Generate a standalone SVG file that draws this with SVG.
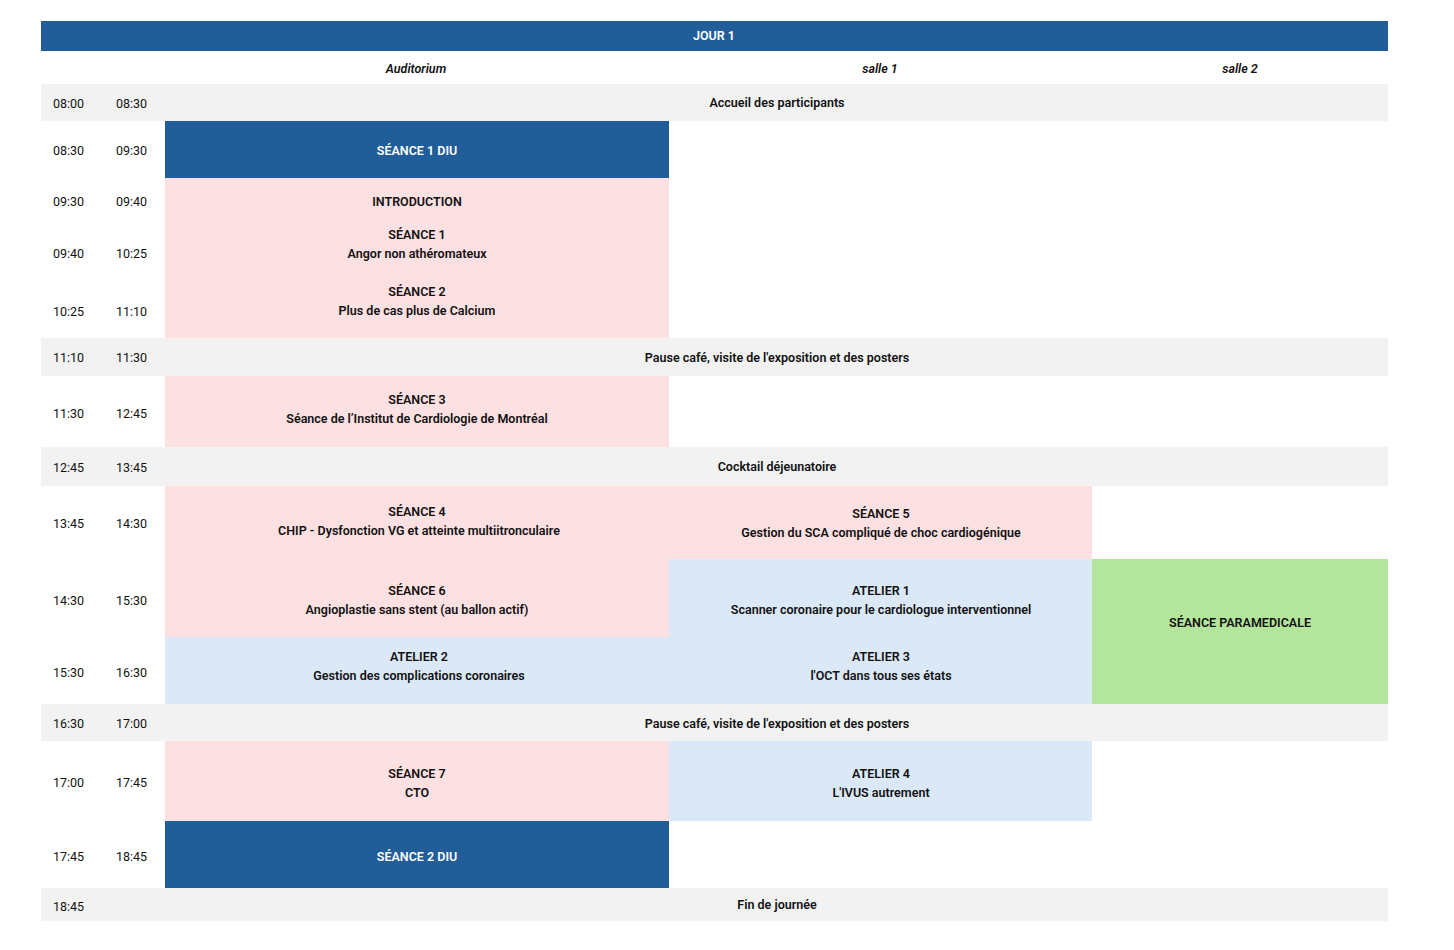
<svg xmlns="http://www.w3.org/2000/svg" width="1454" height="950" viewBox="0 0 1454 950">
<style>
text{font-family:Roboto,"Liberation Sans",sans-serif;font-size:12.5px;fill:#111;}
.b{font-weight:600;text-anchor:middle;}
.t{font-weight:400;}
.w{fill:#fff;}
.i{font-style:italic;}
.gray{fill:#f2f2f2}.blue{fill:#215e99}.pink{fill:#fde0e2}.lb{fill:#dae8f7}.green{fill:#b3e59d}
</style>
<rect width="1454" height="950" fill="#fff"/>
<g id="header"><rect class="blue" x="41" y="21" width="1347" height="30"/><text class="b w" x="714" y="40">JOUR 1</text></g>
<g id="cols"><text class="b i" x="416" y="73">Auditorium</text><text class="b i" x="880" y="73">salle 1</text><text class="b i" x="1240" y="73">salle 2</text></g>
<g id="bands">
<rect class="gray" x="41" y="84" width="1347" height="37"/><text class="b" x="777" y="107">Accueil des participants</text>
<rect class="gray" x="41" y="338" width="1347" height="38"/><text class="b" x="777" y="362">Pause café, visite de l'exposition et des posters</text>
<rect class="gray" x="41" y="447" width="1347" height="39"/><text class="b" x="777" y="471">Cocktail déjeunatoire</text>
<rect class="gray" x="41" y="704" width="1347" height="37"/><text class="b" x="777" y="728">Pause café, visite de l'exposition et des posters</text>
<rect class="gray" x="41" y="888" width="1347" height="33"/><text class="b" x="777" y="909">Fin de journée</text>
</g>
<g id="diu1"><rect class="blue" x="165" y="121" width="504" height="57"/><text class="b w" x="417" y="155">SÉANCE 1 DIU</text></g>
<g id="morning"><rect class="pink" x="165" y="178" width="504" height="160"/>
<text class="b" x="417" y="206">INTRODUCTION</text>
<text class="b" x="417" y="239">SÉANCE 1</text><text class="b" x="417" y="258">Angor non athéromateux</text>
<text class="b" x="417" y="296">SÉANCE 2</text><text class="b" x="417" y="315">Plus de cas plus de Calcium</text></g>
<g id="s3"><rect class="pink" x="165" y="376" width="504" height="71"/><text class="b" x="417" y="404">SÉANCE 3</text><text class="b" x="417" y="423">Séance de l’Institut de Cardiologie de Montréal</text></g>
<g id="s4"><rect class="pink" x="165" y="486" width="504" height="73"/><text class="b" x="417" y="516">SÉANCE 4</text><text class="b" x="419" y="535">CHIP - Dysfonction VG et atteinte multiitronculaire</text></g>
<g id="s5"><rect class="pink" x="669" y="486" width="423" height="73"/><text class="b" x="881" y="518">SÉANCE 5</text><text class="b" x="881" y="537">Gestion du SCA compliqué de choc cardiogénique</text></g>
<g id="s6"><rect class="pink" x="165" y="559" width="504" height="78"/><text class="b" x="417" y="595">SÉANCE 6</text><text class="b" x="417" y="614">Angioplastie sans stent (au ballon actif)</text></g>
<g id="a1"><rect class="lb" x="669" y="559" width="423" height="78"/><text class="b" x="881" y="595">ATELIER 1</text><text class="b" x="881" y="614">Scanner coronaire pour le cardiologue interventionnel</text></g>
<g id="para"><rect class="green" x="1092" y="559" width="296" height="145"/><text class="b" x="1240" y="627">SÉANCE PARAMEDICALE</text></g>
<g id="a2"><rect class="lb" x="165" y="637" width="504" height="67"/><text class="b" x="419" y="661">ATELIER 2</text><text class="b" x="419" y="680">Gestion des complications coronaires</text></g>
<g id="a3"><rect class="lb" x="669" y="637" width="423" height="67"/><text class="b" x="881" y="661">ATELIER 3</text><text class="b" x="881" y="680">l'OCT dans tous ses états</text></g>
<g id="s7"><rect class="pink" x="165" y="741" width="504" height="80"/><text class="b" x="417" y="778">SÉANCE 7</text><text class="b" x="417" y="797">CTO</text></g>
<g id="a4"><rect class="lb" x="669" y="741" width="423" height="80"/><text class="b" x="881" y="778">ATELIER 4</text><text class="b" x="881" y="797">L'IVUS autrement</text></g>
<g id="diu2"><rect class="blue" x="165" y="821" width="504" height="67"/><text class="b w" x="417" y="861">SÉANCE 2 DIU</text></g>
<g id="times" class="t">
<text x="53" y="108">08:00</text><text x="116" y="108">08:30</text>
<text x="53" y="155">08:30</text><text x="116" y="155">09:30</text>
<text x="53" y="206">09:30</text><text x="116" y="206">09:40</text>
<text x="53" y="258">09:40</text><text x="116" y="258">10:25</text>
<text x="53" y="316">10:25</text><text x="116" y="316">11:10</text>
<text x="53" y="362">11:10</text><text x="116" y="362">11:30</text>
<text x="53" y="418">11:30</text><text x="116" y="418">12:45</text>
<text x="53" y="472">12:45</text><text x="116" y="472">13:45</text>
<text x="53" y="528">13:45</text><text x="116" y="528">14:30</text>
<text x="53" y="605">14:30</text><text x="116" y="605">15:30</text>
<text x="53" y="677">15:30</text><text x="116" y="677">16:30</text>
<text x="53" y="728">16:30</text><text x="116" y="728">17:00</text>
<text x="53" y="787">17:00</text><text x="116" y="787">17:45</text>
<text x="53" y="861">17:45</text><text x="116" y="861">18:45</text>
<text x="53" y="911">18:45</text>
</g>
<g id="connectors"/>
</svg>
